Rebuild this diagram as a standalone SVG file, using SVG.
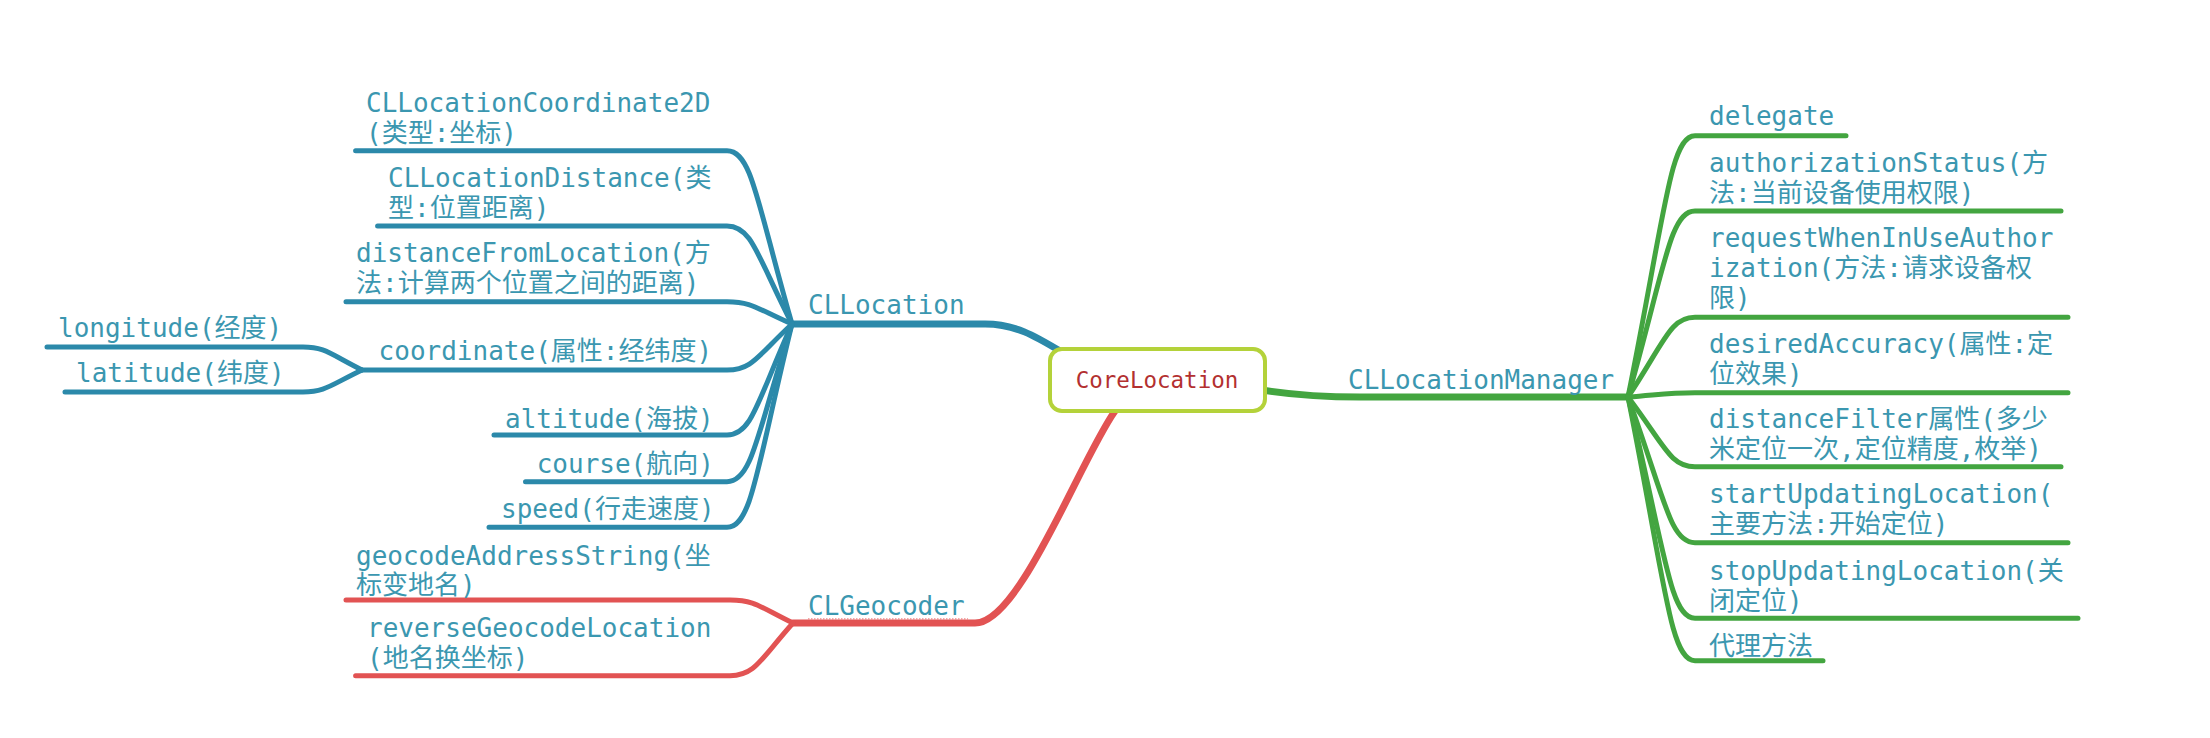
<svg xmlns="http://www.w3.org/2000/svg" width="2210" height="738" viewBox="0 0 2210 738">
<style>
.t{font-family:"DejaVu Sans Mono","Noto Sans CJK SC",monospace;font-size:26px;fill:#3b97b0}
.c{fill:none;stroke-width:5;stroke-linecap:round;stroke-linejoin:round}
.m{stroke-width:7}
.b{stroke:#2b89aa}
.g{stroke:#43a540}
.r{stroke:#e25353}
</style>
<rect width="2210" height="738" fill="#ffffff"/>
<g id="connectors">
  <path class="c m b" d="M792 324 L985 324 C1015 324 1035 336 1060 351"/>
  <path class="c m g" d="M1262 390 C1300 396 1330 397 1360 397 L1628 397"/>
  <path class="c m r" d="M793 623 L975 623 C1020 623 1080 460 1115 411"/>
  <line x1="808" y1="619" x2="968" y2="619" stroke="#ef8a8a" stroke-width="1.5" stroke-dasharray="1.5 1.5"/>
  <!-- CLLocation children -->
  <path class="c b" d="M355.6 150.7 L727 150.7 C752 150.7 757 203 792 324"/>
  <path class="c b" d="M377.6 226 L727 226 C752 226 757 255.7 792 324"/>
  <path class="c b" d="M346 301.7 L727 301.7 C752 301.7 757 308.7 792 324"/>
  <path class="c b" d="M362 370 L727 370 C752 370 757 356.5 792 324"/>
  <path class="c b" d="M494 435 L727 435 C752 435 757 402 792 324"/>
  <path class="c b" d="M525.5 481.7 L727 481.7 C752 481.7 757 434.7 792 324"/>
  <path class="c b" d="M489 527.3 L727 527.3 C752 527.3 757 466.6 792 324"/>
  <!-- coordinate children -->
  <path class="c b" d="M47 347 L303 347 C325 347 330 354 362 370"/>
  <path class="c b" d="M65 392 L303 392 C325 392 330 385.4 362 370"/>
  <!-- CLGeocoder children -->
  <path class="c r" d="M346 600 L730 600 C755 600 760 607 793 623"/>
  <path class="c r" d="M355.6 675.7 L730 675.7 C755 675.7 760 660 793 623"/>
  <!-- CLLocationManager children -->
  <path class="c g" d="M1846 135.7 L1695 135.7 C1670 135.7 1665 214 1628 397"/>
  <path class="c g" d="M2061 211 L1695 211 C1670 211 1665 266.8 1628 397"/>
  <path class="c g" d="M2068 317.3 L1695 317.3 C1670 317.3 1665 341.2 1628 397"/>
  <path class="c g" d="M2068 392.7 L1695 392.7 C1670 392.7 1665 394 1628 397"/>
  <path class="c g" d="M2061 466.7 L1695 466.7 C1670 466.7 1665 445.8 1628 397"/>
  <path class="c g" d="M2068 542.7 L1695 542.7 C1670 542.7 1665 499 1628 397"/>
  <path class="c g" d="M2078 618.3 L1695 618.3 C1670 618.3 1665 551.9 1628 397"/>
  <path class="c g" d="M1823 660.7 L1695 660.7 C1670 660.7 1665 581.6 1628 397"/>
</g>
<g id="root">
  <rect x="1050" y="349" width="215" height="62" rx="12" fill="#ffffff" stroke="#b4d23a" stroke-width="4"/>
  <text x="1157" y="388" text-anchor="middle" style="font-family:'DejaVu Sans Mono',monospace;font-size:22.5px;fill:#b33030">CoreLocation</text>
</g>
<g id="n-cllocation"><text class="t" x="808" y="314">CLLocation</text></g>
<g id="n-clgeocoder"><text class="t" x="808" y="615">CLGeocoder</text></g>
<g id="n-cllocationmanager"><text class="t" x="1348" y="389">CLLocationManager</text></g>
<g id="n-coord2d"><text class="t" x="366" y="111.7">CLLocationCoordinate2D<tspan x="366" y="141.7">(类型:坐标)</tspan></text></g>
<g id="n-distance"><text class="t" x="388" y="186.7">CLLocationDistance(类<tspan x="388" y="216.7">型:位置距离)</tspan></text></g>
<g id="n-distfrom"><text class="t" x="356" y="262">distanceFromLocation(方<tspan x="356" y="292">法:计算两个位置之间的距离)</tspan></text></g>
<g id="n-coordinate"><text class="t" x="378.6" y="360">coordinate(属性:经纬度)</text></g>
<g id="n-longitude"><text class="t" x="58" y="336.7">longitude(经度)</text></g>
<g id="n-latitude"><text class="t" x="76" y="381.7">latitude(纬度)</text></g>
<g id="n-altitude"><text class="t" x="505" y="427.7">altitude(海拔)</text></g>
<g id="n-course"><text class="t" x="536.7" y="473.3">course(航向)</text></g>
<g id="n-speed"><text class="t" x="501" y="518">speed(行走速度)</text></g>
<g id="n-geocode"><text class="t" x="356" y="565">geocodeAddressString(坐<tspan x="356" y="594">标变地名)</tspan></text></g>
<g id="n-reverse"><text class="t" x="367" y="637">reverseGeocodeLocation<tspan x="367" y="667">(地名换坐标)</tspan></text></g>
<g id="n-delegate"><text class="t" x="1709" y="125">delegate</text></g>
<g id="n-authstatus"><text class="t" x="1709" y="171.7">authorizationStatus(方<tspan x="1709" y="201.7">法:当前设备使用权限)</tspan></text></g>
<g id="n-request"><text class="t" x="1709" y="246.7">requestWhenInUseAuthor<tspan x="1709" y="276.7">ization(方法:请求设备权</tspan><tspan x="1709" y="306.7">限)</tspan></text></g>
<g id="n-accuracy"><text class="t" x="1709" y="353.3">desiredAccuracy(属性:定<tspan x="1709" y="383.3">位效果)</tspan></text></g>
<g id="n-filter"><text class="t" x="1709" y="428.3">distanceFilter属性(多少<tspan x="1709" y="458.3">米定位一次,定位精度,枚举)</tspan></text></g>
<g id="n-start"><text class="t" x="1709" y="503.3">startUpdatingLocation(<tspan x="1709" y="533.3">主要方法:开始定位)</tspan></text></g>
<g id="n-stop"><text class="t" x="1709" y="580">stopUpdatingLocation(关<tspan x="1709" y="610">闭定位)</tspan></text></g>
<g id="n-proxy"><text class="t" x="1709" y="655">代理方法</text></g>
</svg>
